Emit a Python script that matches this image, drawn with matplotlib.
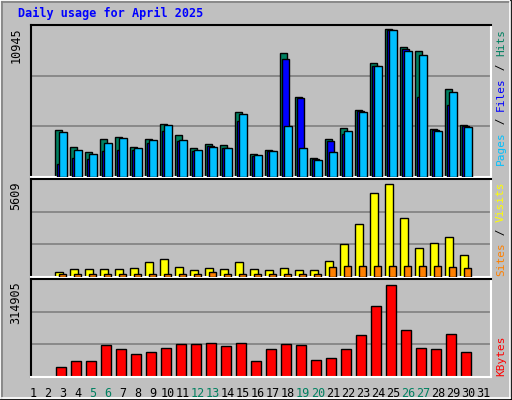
import matplotlib
matplotlib.use("Agg")
import matplotlib.pyplot as plt
from matplotlib.lines import Line2D

days = list(range(1, 32))
bar_days = list(range(3, 31))
hits = [3477, 2211, 1839, 2807, 2956, 2211, 2807, 3924, 3105, 2137, 2435, 2360, 4817, 1690,
        1985, 9204, 5934, 1392, 2807, 3626, 4966, 8465, 10921, 9652, 9354, 3551, 6530, 3849]
files = [945, 1414, 1340, 1936, 2010, 2010, 2531, 3425, 2680, 1936, 2286, 2137, 4147, 1541,
         1911, 8711, 5880, 1340, 2658, 3179, 4861, 8242, 10870, 9503, 5934, 3477, 5338, 3774]
pages = [3328, 1985, 1690, 2509, 2881, 2137, 2733, 3849, 2733, 1985, 2211, 2137, 4668, 1616,
         1911, 3774, 2137, 1266, 1839, 3402, 4817, 8242, 10847, 9354, 9056, 3402, 6306, 3700]
visits = [306, 436, 436, 436, 436, 493, 833, 1003, 550, 380, 493, 436, 833, 436,
          380, 493, 380, 380, 890, 1853, 2986, 4742, 5252, 3326, 1626, 1910, 2250, 1230]
sites = [190, 190, 190, 190, 190, 190, 190, 190, 190, 190, 306, 190, 190, 190,
         190, 190, 190, 190, 550, 606, 606, 606, 606, 606, 606, 606, 550, 493]
kbytes = [30441, 50386, 50386, 99722, 87126, 71380, 77680, 90276, 102872, 102872, 106021, 96572,
          106021, 50386, 87126, 102872, 99722, 53535, 58783, 87126, 131212, 222536, 289717,
          146958, 90276, 87126, 134361, 77680]
weekend = [5, 6, 12, 13, 19, 20, 26, 27]
title = "Daily usage for April 2025"
max_labels = ["10945", "5609", "314905"]

BG = "#C0C0C0"
C_HITS, C_FILES, C_PAGES = "#008060", "#0000FF", "#00C0FF"
C_VIS, C_SITES, C_KB = "#FFFF00", "#FF8000", "#FF0000"
FONT = "DejaVu Sans Mono"

fig = plt.figure(figsize=(5.12, 4.0), dpi=100, facecolor=BG)
W, H = 512, 400

def px(x0, y0, x1, y1):
    return [x0 / W, 1 - y1 / H, (x1 - x0) / W, (y1 - y0) / H]

for (xs, ys, c) in [([0, 1], [1, 1], "white"), ([0, 0], [0, 1], "white"),
                    ([0, 1], [0.001, 0.001], "black"), ([0.999, 0.999], [0, 1], "black"),
                    ([0.004, 0.996], [0.994, 0.994], "#808080"), ([0.004, 0.004], [0.006, 0.994], "#808080"),
                    ([0.004, 0.996], [0.006, 0.006], "white"), ([0.996, 0.996], [0.006, 0.994], "white")]:
    fig.add_artist(Line2D(xs, ys, color=c, lw=1.2, transform=fig.transFigure))

def make_ax(rect, ytop):
    ax = fig.add_axes(rect, facecolor=BG)
    ax.set_xlim(0.867, 31.53)
    ax.set_ylim(0, ytop)
    for v in (ytop / 3, 2 * ytop / 3):
        ax.axhline(v, color="#808080", lw=1.2, zorder=0)
    ax.set_xticks([]); ax.set_yticks([])
    ax.spines["top"].set_color("black"); ax.spines["left"].set_color("black")
    ax.spines["bottom"].set_color("white"); ax.spines["right"].set_color("white")
    for s in ax.spines.values():
        s.set_linewidth(1.5)
    return ax

ax1 = make_ax(px(31, 25, 491, 177), 11243)
ax2 = make_ax(px(31, 179, 491, 277), 5553)
ax3 = make_ax(px(31, 279, 491, 377), 308600)

kw = dict(align="edge", edgecolor="black", linewidth=1.0)
ax1.bar([d - 0.55 for d in bar_days], hits, width=0.5, color=C_HITS, zorder=2, **kw)
ax1.bar([d - 0.42 for d in bar_days], files, width=0.5, color=C_FILES, zorder=3, **kw)
ax1.bar([d - 0.28 for d in bar_days], pages, width=0.53, color=C_PAGES, zorder=4, **kw)
ax2.bar([d - 0.55 for d in bar_days], visits, width=0.56, color=C_VIS, zorder=2, **kw)
ax2.bar([d - 0.28 for d in bar_days], sites, width=0.5, color=C_SITES, zorder=3, **kw)
ax3.bar([d - 0.48 for d in bar_days], kbytes, width=0.7, color=C_KB, zorder=2, **kw)

for d in days:
    ax3.text(d, -0.1, str(d), transform=ax3.get_xaxis_transform(), ha="center", va="top",
             fontsize=8.5, family=FONT, color="#008060" if d in weekend else "black")

fig.text(18 / W, 1 - 7 / H, title, ha="left", va="top", fontsize=8.5, family=FONT,
         fontweight="bold", color="#0000FF")

for lab, ytop in zip(max_labels, [27, 181, 281]):
    fig.text(16 / W, 1 - ytop / H, lab, rotation=90, ha="center", va="top",
             fontsize=8.5, family=FONT, color="black")

def side_label(parts, ybottom):
    y = ybottom
    for s, c in parts:
        fig.text(501 / W, 1 - y / H, s, rotation=90, ha="center", va="bottom",
                 fontsize=8, family=FONT, color=c)
        y -= 6.8 * len(s)

side_label([("Pages", C_PAGES), (" / ", "black"), ("Files", C_FILES), (" / ", "black"), ("Hits", C_HITS)], 165)
side_label([("Sites", C_SITES), (" / ", "black"), ("Visits", C_VIS)], 276)
side_label([("KBytes", C_KB)], 376)

fig.savefig("out.png", dpi=100, facecolor=BG)
